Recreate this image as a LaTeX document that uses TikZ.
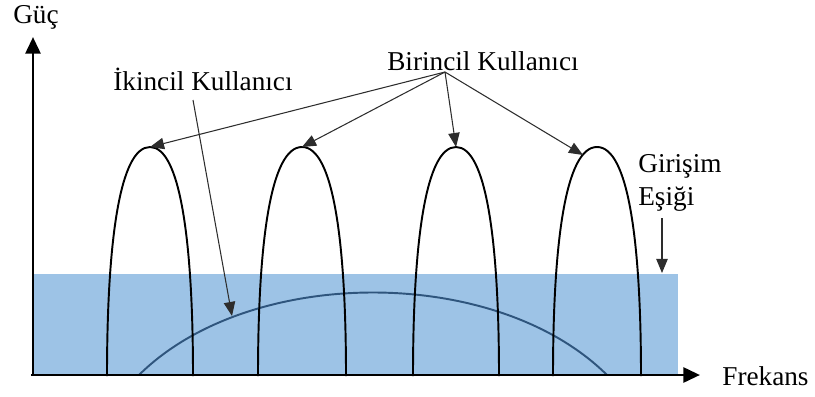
\documentclass[tikz,border=0pt]{standalone}
\usepackage{fontspec}
\setmainfont{Liberation Serif}
\usetikzlibrary{arrows.meta}
\definecolor{esikblue}{RGB}{157,195,230}
\definecolor{ikincilblue}{RGB}{47,85,125}
\definecolor{okgray}{RGB}{45,45,45}

\begin{document}
\begin{tikzpicture}[x=0.02cm, y=-0.02cm,
    etiket/.style={font=\fontsize{15.5}{18.7}\selectfont, inner sep=0pt},
    pointer/.style={okgray, line width=0.6pt, -{Triangle[length=8pt,width=6.5pt]}},
    axis/.style={line width=1.7pt, -{Triangle[length=9.5pt,width=8.5pt]}},
    lobe/.style={line width=1.1pt}]
  \useasboundingbox (0,0) rectangle (815,396);
  % interference threshold band
  \fill[esikblue] (33,274) rectangle (678,374);
  % secondary user spectrum
  \draw[ikincilblue, line width=1.1pt]
    (139,375) .. controls (250,265) and (496,265) .. (607,375);
  \coordinate (ikincil-hedef) at (232,316);
  % primary user lobes
  \foreach \l/\r [count=\i] in {107/193, 258/346, 413/499, 553/641} {
    \draw[lobe] (\l,376) .. controls (\l,240) and ({\l+13},147) .. ({(\l+\r)/2},147)
      .. controls ({\r-13},147) and (\r,240) .. (\r,376);
    \coordinate (tepe\i) at ({(\l+\r)/2},147);
  }
  \coordinate (tepe4) at (583,155);
  % axes
  \coordinate (origin) at (33,375);
  \draw[axis] (origin) -- (33,37);
  \draw[axis] (31,375) -- (700,375);
  % labels
  \node[etiket, anchor=base] (guc) at (36,23) {Güç};
  \node[etiket, anchor=base west] (frekans) at (722,385) {Frekans};
  \node[etiket, anchor=base west] (ikincil) at (113,90) {İkincil Kullanıcı};
  \node[etiket, anchor=base] (birincil) at (483,70) {Birincil Kullanıcı};
  \node[etiket, anchor=base west] (girisim) at (638,172) {Girişim};
  \node[etiket, anchor=base west] (esigi) at (638,205) {Eşiği};
  \coordinate (birincil-kok) at (445,72);
  \coordinate (ikincil-kok) at (193,100);
  \coordinate (esik-kok) at (662,218);
  \coordinate (esik-hedef) at (662,273);
  % pointers
  \foreach \i in {1,...,4}
    \draw[pointer] (birincil-kok) -- (tepe\i);
  \draw[pointer] (ikincil-kok) -- (ikincil-hedef);
  \draw[pointer] (esik-kok) -- (esik-hedef);
\end{tikzpicture}
\end{document}
